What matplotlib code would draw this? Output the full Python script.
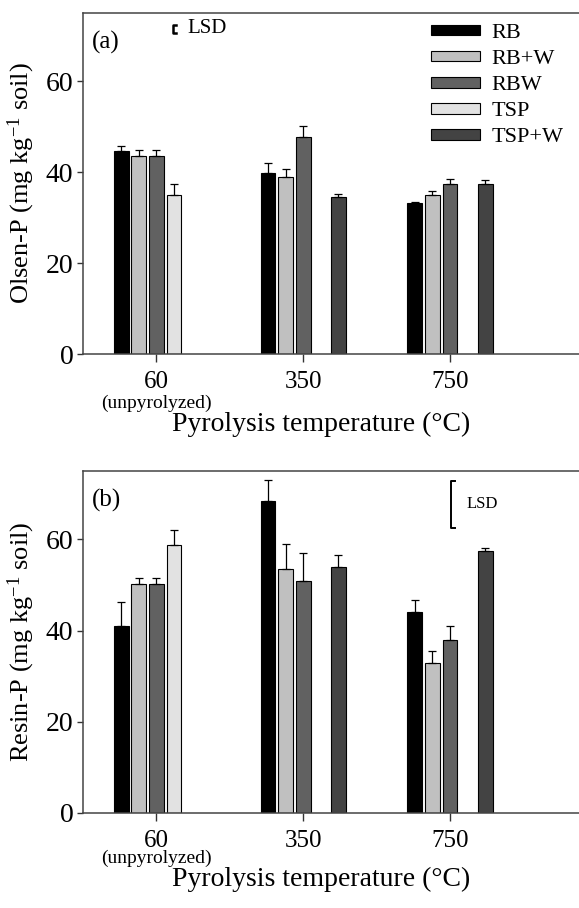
"""
Olsen-P and Resin-P by pyrolysis temperature
"""
import matplotlib
matplotlib.use("Agg")
import matplotlib.pyplot as pp
from matplotlib.patches import Patch
import numpy as np

pp.rcParams['font.family'] = ['Liberation Serif', 'DejaVu Serif']
pp.rcParams['mathtext.fontset'] = 'custom'
pp.rcParams['mathtext.rm'] = 'Liberation Serif'
pp.rcParams['mathtext.it'] = 'Liberation Serif:italic'

nan = np.nan
temps = ["60", "350", "750"]
treatments = ["RB", "RB+W", "RBW", "TSP", "TSP+W"]
colors = ["#000000", "#c0c0c0", "#616161", "#e2e2e2", "#434343"]

# Olsen-P (panel a), one list per treatment, columns follow temps
olsen_rb = [44.6, 39.9, 33.3]
olsen_rb_w = [43.5, 39.0, 35.0]
olsen_rbw = [43.5, 47.7, 37.4]
olsen_tsp = [35.0, nan, nan]
olsen_tsp_w = [nan, 34.5, 37.3]
olsen_err = [[1.1, 2.2, 0.2], [1.3, 1.6, 0.9], [1.3, 2.4, 1.0],
             [2.4, nan, nan], [nan, 0.6, 0.9]]
olsen_lsd = 1.8
olsen_lsd_top = 72.4

# Resin-P (panel b)
resin_rb = [41.0, 68.5, 44.0]
resin_rb_w = [50.2, 53.5, 32.8]
resin_rbw = [50.2, 50.8, 37.9]
resin_tsp = [58.7, nan, nan]
resin_tsp_w = [nan, 54.0, 57.4]
resin_err = [[5.3, 4.5, 2.8], [1.4, 5.6, 2.8], [1.4, 6.3, 3.1],
             [3.4, nan, nan], [nan, 2.6, 0.8]]
resin_lsd = 10.3
resin_lsd_top = 72.9

W, H = 579, 908
fig = pp.figure(figsize=(W / 100, H / 100), dpi=100)


def px_axes(left, top, right, bottom):
    return fig.add_axes([left / W, 1 - bottom / H, (right - left) / W, (bottom - top) / H])


# one bar panel, positions below the axis are given in axes fractions
def panel(ax, series, errs, ylabel, tag, lsd, lsd_top, lsd_x, lsd_fs, lsd_lw, xlab_y, unp_y):
    x = np.arange(len(temps))
    step, width = 0.12, 0.1
    for i, vals in enumerate(series):
        pos = x + (i - 2) * step
        ax.bar(pos, vals, width, color=colors[i], edgecolor="black", linewidth=0.8, zorder=2)
        e = np.array(errs[i])
        ax.errorbar(pos, vals, yerr=[np.zeros_like(e), e], fmt="none", ecolor="black",
                    elinewidth=0.9, capsize=3.2, capthick=0.9, zorder=3)
    ax.set_xlim(-0.5, 2.92)
    ax.set_ylim(0, 75)
    ax.set_yticks([0, 20, 40, 60])
    ax.set_xticks(x)
    ax.set_xticklabels(temps)
    ax.tick_params(axis="y", labelsize=20, length=4, width=1, pad=3, colors="#333333", labelcolor="black")
    ax.tick_params(axis="x", labelsize=18, length=6, width=1, pad=6, colors="#333333", labelcolor="black")
    for s in ["left", "top", "bottom"]:
        ax.spines[s].set_color("#444444")
        ax.spines[s].set_linewidth(1.1)
    ax.spines["right"].set_visible(False)
    ax.set_ylabel(ylabel, fontsize=19, labelpad=6)
    ax.set_xlabel("Pyrolysis temperature (\u00b0C)", fontsize=20)
    ax.xaxis.set_label_coords(0.475, xlab_y)
    ax.text(0, unp_y, "(unpyrolyzed)", transform=ax.get_xaxis_transform(),
            ha="center", va="center", fontsize=14)
    ax.text(0.018, 0.915, tag, transform=ax.transAxes, fontsize=18, va="center", ha="left")
    # LSD bracket
    bw = 0.025
    ax.plot([lsd_x + bw, lsd_x, lsd_x, lsd_x + bw],
            [lsd_top, lsd_top, lsd_top - lsd, lsd_top - lsd],
            color="black", linewidth=lsd_lw, clip_on=False)
    ax.text(lsd_x + 0.1, lsd_top - lsd / 2, "LSD", fontsize=lsd_fs, va="center", ha="left")


ax1 = px_axes(83, 13, 585, 354)
panel(ax1, [olsen_rb, olsen_rb_w, olsen_rbw, olsen_tsp, olsen_tsp_w], olsen_err,
      r"Olsen-P (mg kg$^{-1}$ soil)", "(a)", olsen_lsd, olsen_lsd_top, 0.111, 15, 1.8,
      -0.170, -0.145)

handles = [Patch(facecolor=colors[i], edgecolor="black", linewidth=0.8) for i in range(5)]
ax1.legend(handles, treatments, loc="upper left", bbox_to_anchor=(431 / W, 1 - 24 / H),
           bbox_transform=fig.transFigure, frameon=False, fontsize=16,
           handlelength=2.2, handleheight=0.36, handletextpad=0.53, labelspacing=0.32,
           borderaxespad=0, borderpad=0)

ax2 = px_axes(83, 471, 585, 813)
panel(ax2, [resin_rb, resin_rb_w, resin_rbw, resin_tsp, resin_tsp_w], resin_err,
      r"Resin-P (mg kg$^{-1}$ soil)", "(b)", resin_lsd, resin_lsd_top, 2.01, 12, 1.4,
      -0.157, -0.133)

fig.savefig("out.png", dpi=100)
